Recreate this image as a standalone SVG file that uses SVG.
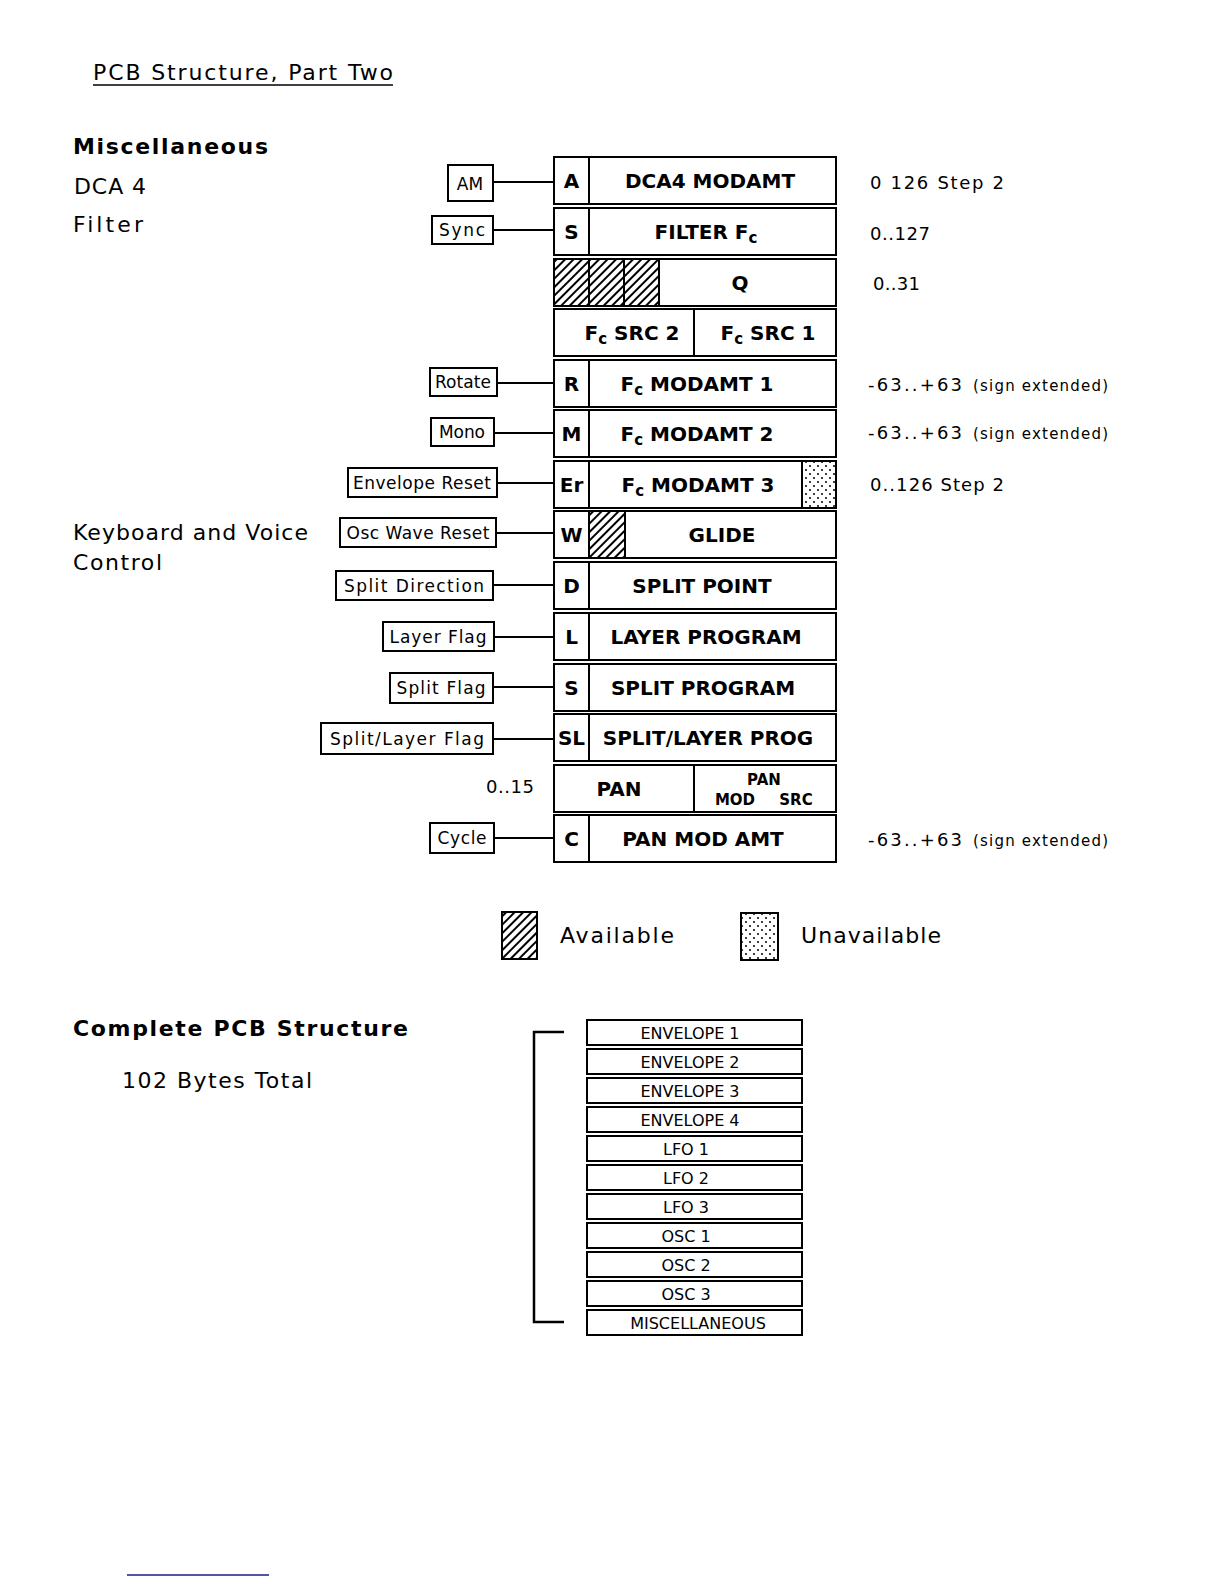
<svg xmlns="http://www.w3.org/2000/svg" width="1224" height="1584" viewBox="0 0 1224 1584">
<defs>
<pattern id="hatch" patternUnits="userSpaceOnUse" width="6" height="6" patternTransform="rotate(45)">
<rect width="6" height="6" fill="#fff"/>
<rect x="0" y="0" width="2" height="6" fill="#000"/>
</pattern>
<pattern id="dots" patternUnits="userSpaceOnUse" width="8" height="8">
<rect width="8" height="8" fill="#fff"/>
<circle cx="2" cy="2" r="1" fill="#000"/>
<circle cx="6" cy="6" r="1" fill="#000"/>
</pattern>
<style>
.box{fill:#fff;stroke:#000;stroke-width:2}
.hb{fill:url(#hatch);stroke:#000;stroke-width:2}
.db{fill:url(#dots);stroke:#000;stroke-width:2}
.div{stroke:#000;stroke-width:2}
.con{stroke:#000;stroke-width:1.8;fill:none}
.m{font-family:"DejaVu Sans",sans-serif;font-weight:bold;font-size:20px;text-anchor:middle;fill:#000}
.sub{font-size:15px}
.ms{font-family:"DejaVu Sans",sans-serif;font-weight:bold;font-size:15px;text-anchor:middle;fill:#000}
.lb{font-family:"DejaVu Sans",sans-serif;font-size:17px;text-anchor:middle;fill:#000}
.r{font-family:"DejaVu Sans",sans-serif;font-size:18px;fill:#000}
.rs{font-family:"DejaVu Sans",sans-serif;font-size:15px;fill:#000}
.t{font-family:"DejaVu Sans",sans-serif;font-size:22px;fill:#000}
.tb{font-family:"DejaVu Sans",sans-serif;font-size:22px;font-weight:bold;fill:#000}
.st{font-family:"DejaVu Sans",sans-serif;font-size:16px;text-anchor:middle;fill:#000}
</style>
</defs>
<rect width="1224" height="1584" fill="#fff"/>

<g id="headings">
<text class="t" x="93" y="80" textLength="300" lengthAdjust="spacing">PCB Structure, Part Two</text>
<line x1="93" y1="85" x2="393" y2="85" stroke="#000" stroke-width="1.5"/>
<text class="tb" x="73" y="154" textLength="195" lengthAdjust="spacing">Miscellaneous</text>
<text class="t" x="74" y="194" textLength="72" lengthAdjust="spacing">DCA 4</text>
<text class="t" x="73" y="232" textLength="70" lengthAdjust="spacing">Filter</text>
<text class="t" x="73" y="540" textLength="235" lengthAdjust="spacing">Keyboard and Voice</text>
<text class="t" x="73" y="570" textLength="89" lengthAdjust="spacing">Control</text>
<text class="tb" x="73" y="1036" textLength="335" lengthAdjust="spacing">Complete PCB Structure</text>
<text class="t" x="122" y="1088" textLength="190" lengthAdjust="spacing">102 Bytes Total</text>
</g>

<g id="connectors">
<line class="con" x1="493" y1="182" x2="554" y2="182"/>
<line class="con" x1="493" y1="230" x2="554" y2="230"/>
<line class="con" x1="497" y1="383" x2="554" y2="383"/>
<line class="con" x1="494" y1="433" x2="554" y2="433"/>
<line class="con" x1="497" y1="483" x2="554" y2="483"/>
<line class="con" x1="496" y1="533" x2="554" y2="533"/>
<line class="con" x1="493" y1="585" x2="554" y2="585"/>
<line class="con" x1="494" y1="637" x2="554" y2="637"/>
<line class="con" x1="493" y1="687" x2="554" y2="687"/>
<line class="con" x1="493" y1="739" x2="554" y2="739"/>
<line class="con" x1="494" y1="838" x2="554" y2="838"/>
</g>

<g id="flags">
<g id="flag-am"><rect class="box" x="448" y="165" width="45" height="36"/><text class="lb" x="470" y="190" font-size="19">AM</text></g>
<g id="flag-sync"><rect class="box" x="432" y="216" width="61" height="28"/><text class="lb" x="462" y="236" textLength="46" lengthAdjust="spacing">Sync</text></g>
<g id="flag-rotate"><rect class="box" x="430" y="368" width="67" height="28"/><text class="lb" x="463" y="388" textLength="56" lengthAdjust="spacing">Rotate</text></g>
<g id="flag-mono"><rect class="box" x="431" y="418" width="63" height="28"/><text class="lb" x="462" y="438" textLength="46" lengthAdjust="spacing">Mono</text></g>
<g id="flag-envreset"><rect class="box" x="348" y="468" width="149" height="29"/><text class="lb" x="422" y="489" textLength="138" lengthAdjust="spacing">Envelope Reset</text></g>
<g id="flag-oscreset"><rect class="box" x="340" y="518" width="156" height="29"/><text class="lb" x="418" y="539" textLength="143" lengthAdjust="spacing">Osc Wave Reset</text></g>
<g id="flag-splitdir"><rect class="box" x="336" y="571" width="157" height="29"/><text class="lb" x="414" y="592" textLength="140" lengthAdjust="spacing">Split Direction</text></g>
<g id="flag-layer"><rect class="box" x="383" y="622" width="111" height="29"/><text class="lb" x="438" y="643" textLength="97" lengthAdjust="spacing">Layer Flag</text></g>
<g id="flag-split"><rect class="box" x="390" y="673" width="103" height="30"/><text class="lb" x="441" y="694" textLength="89" lengthAdjust="spacing">Split Flag</text></g>
<g id="flag-splitlayer"><rect class="box" x="321" y="723" width="172" height="31"/><text class="lb" x="407" y="745" textLength="154" lengthAdjust="spacing">Split/Layer Flag</text></g>
<g id="flag-cycle"><rect class="box" x="430" y="823" width="64" height="30"/><text class="lb" x="462" y="844" textLength="49" lengthAdjust="spacing">Cycle</text></g>
</g>

<g id="bytes">
<g id="row-dca4">
<rect class="box" x="554" y="157" width="282" height="47"/><line class="div" x1="589" y1="157" x2="589" y2="204"/>
<text class="m" x="571.5" y="188">A</text><text class="m" x="710" y="188">DCA4 MODAMT</text>
</g>
<g id="row-filterfc">
<rect class="box" x="554" y="208" width="282" height="47"/><line class="div" x1="589" y1="208" x2="589" y2="255"/>
<text class="m" x="571.5" y="239">S</text><text class="m" x="706" y="239">FILTER F<tspan class="sub" dy="4">c</tspan></text>
</g>
<g id="row-q">
<rect class="box" x="554" y="259" width="282" height="47"/>
<rect class="hb" x="554" y="259" width="35" height="47"/>
<rect class="hb" x="589" y="259" width="35" height="47"/>
<rect class="hb" x="624" y="259" width="35" height="47"/>
<text class="m" x="740" y="290">Q</text>
</g>
<g id="row-fcsrc">
<rect class="box" x="554" y="309" width="282" height="47"/><line class="div" x1="694" y1="309" x2="694" y2="356"/>
<text class="m" x="632" y="340">F<tspan class="sub" dy="4">c</tspan><tspan dy="-4"> SRC 2</tspan></text>
<text class="m" x="768" y="340">F<tspan class="sub" dy="4">c</tspan><tspan dy="-4"> SRC 1</tspan></text>
</g>
<g id="row-fcmod1">
<rect class="box" x="554" y="360" width="282" height="47"/><line class="div" x1="589" y1="360" x2="589" y2="407"/>
<text class="m" x="571.5" y="391">R</text><text class="m" x="697" y="391">F<tspan class="sub" dy="4">c</tspan><tspan dy="-4"> MODAMT 1</tspan></text>
</g>
<g id="row-fcmod2">
<rect class="box" x="554" y="410" width="282" height="47"/><line class="div" x1="589" y1="410" x2="589" y2="457"/>
<text class="m" x="571.5" y="441">M</text><text class="m" x="697" y="441">F<tspan class="sub" dy="4">c</tspan><tspan dy="-4"> MODAMT 2</tspan></text>
</g>
<g id="row-fcmod3">
<rect class="box" x="554" y="461" width="282" height="47"/><line class="div" x1="589" y1="461" x2="589" y2="508"/>
<rect class="db" x="802" y="461" width="34" height="47"/>
<text class="m" x="571.5" y="492">Er</text><text class="m" x="698" y="492">F<tspan class="sub" dy="4">c</tspan><tspan dy="-4"> MODAMT 3</tspan></text>
</g>
<g id="row-glide">
<rect class="box" x="554" y="511" width="282" height="47"/>
<rect class="hb" x="589" y="511" width="36" height="47"/>
<text class="m" x="571.5" y="542">W</text><text class="m" x="722" y="542">GLIDE</text>
</g>
<g id="row-splitpoint">
<rect class="box" x="554" y="562" width="282" height="47"/><line class="div" x1="589" y1="562" x2="589" y2="609"/>
<text class="m" x="571.5" y="593">D</text><text class="m" x="702" y="593">SPLIT POINT</text>
</g>
<g id="row-layerprog">
<rect class="box" x="554" y="613" width="282" height="47"/><line class="div" x1="589" y1="613" x2="589" y2="660"/>
<text class="m" x="571.5" y="644">L</text><text class="m" x="706" y="644">LAYER PROGRAM</text>
</g>
<g id="row-splitprog">
<rect class="box" x="554" y="664" width="282" height="47"/><line class="div" x1="589" y1="664" x2="589" y2="711"/>
<text class="m" x="571.5" y="695">S</text><text class="m" x="703" y="695">SPLIT PROGRAM</text>
</g>
<g id="row-slprog">
<rect class="box" x="554" y="714" width="282" height="47"/><line class="div" x1="589" y1="714" x2="589" y2="761"/>
<text class="m" x="571.5" y="745">SL</text><text class="m" x="708" y="745">SPLIT/LAYER PROG</text>
</g>
<g id="row-pan">
<rect class="box" x="554" y="765" width="282" height="47"/><line class="div" x1="694" y1="765" x2="694" y2="812"/>
<text class="m" x="619" y="796">PAN</text>
<text class="ms" x="764" y="785">PAN</text>
<text class="ms" x="735" y="805">MOD</text>
<text class="ms" x="796" y="805">SRC</text>
</g>
<g id="row-panmodamt">
<rect class="box" x="554" y="815" width="282" height="47"/><line class="div" x1="589" y1="815" x2="589" y2="862"/>
<text class="m" x="571.5" y="846">C</text><text class="m" x="703" y="846">PAN MOD AMT</text>
</g>
</g>

<g id="ranges">
<text class="r" x="870" y="189" textLength="134" lengthAdjust="spacing">0 126 Step 2</text>
<text class="r" x="870" y="240" textLength="60" lengthAdjust="spacing">0..127</text>
<text class="r" x="873" y="290" textLength="47" lengthAdjust="spacing">0..31</text>
<text class="r" x="868" y="391" textLength="94" lengthAdjust="spacing">-63..+63</text><text class="rs" x="973" y="391" textLength="135" lengthAdjust="spacing">(sign extended)</text>
<text class="r" x="868" y="439" textLength="94" lengthAdjust="spacing">-63..+63</text><text class="rs" x="973" y="439" textLength="135" lengthAdjust="spacing">(sign extended)</text>
<text class="r" x="870" y="491" textLength="134" lengthAdjust="spacing">0..126 Step 2</text>
<text class="r" x="486" y="793" textLength="48" lengthAdjust="spacing">0..15</text>
<text class="r" x="868" y="846" textLength="94" lengthAdjust="spacing">-63..+63</text><text class="rs" x="973" y="846" textLength="135" lengthAdjust="spacing">(sign extended)</text>
</g>

<g id="legend">
<g id="legend-available"><rect class="hb" x="502" y="912" width="35" height="47"/><text class="t" x="560" y="943" textLength="114" lengthAdjust="spacing">Available</text></g>
<g id="legend-unavailable"><rect class="db" x="741" y="913" width="37" height="47"/><text class="t" x="801" y="943" textLength="140" lengthAdjust="spacing">Unavailable</text></g>
</g>

<g id="complete-structure">
<path d="M564 1032 H534 V1322 H564" fill="none" stroke="#000" stroke-width="2.5"/>
<g id="blk-env1"><rect class="box" x="587" y="1020" width="215" height="25"/><text class="st" x="690" y="1039">ENVELOPE 1</text></g>
<g id="blk-env2"><rect class="box" x="587" y="1049" width="215" height="25"/><text class="st" x="690" y="1068">ENVELOPE 2</text></g>
<g id="blk-env3"><rect class="box" x="587" y="1078" width="215" height="25"/><text class="st" x="690" y="1097">ENVELOPE 3</text></g>
<g id="blk-env4"><rect class="box" x="587" y="1107" width="215" height="25"/><text class="st" x="690" y="1126">ENVELOPE 4</text></g>
<g id="blk-lfo1"><rect class="box" x="587" y="1136" width="215" height="25"/><text class="st" x="686" y="1155">LFO 1</text></g>
<g id="blk-lfo2"><rect class="box" x="587" y="1165" width="215" height="25"/><text class="st" x="686" y="1184">LFO 2</text></g>
<g id="blk-lfo3"><rect class="box" x="587" y="1194" width="215" height="25"/><text class="st" x="686" y="1213">LFO 3</text></g>
<g id="blk-osc1"><rect class="box" x="587" y="1223" width="215" height="25"/><text class="st" x="686" y="1242">OSC 1</text></g>
<g id="blk-osc2"><rect class="box" x="587" y="1252" width="215" height="25"/><text class="st" x="686" y="1271">OSC 2</text></g>
<g id="blk-osc3"><rect class="box" x="587" y="1281" width="215" height="25"/><text class="st" x="686" y="1300">OSC 3</text></g>
<g id="blk-misc"><rect class="box" x="587" y="1310" width="215" height="25"/><text class="st" x="698" y="1329">MISCELLANEOUS</text></g>
</g>

<line x1="127" y1="1575" x2="269" y2="1575" stroke="#1a1a8c" stroke-width="1.5"/>
</svg>
